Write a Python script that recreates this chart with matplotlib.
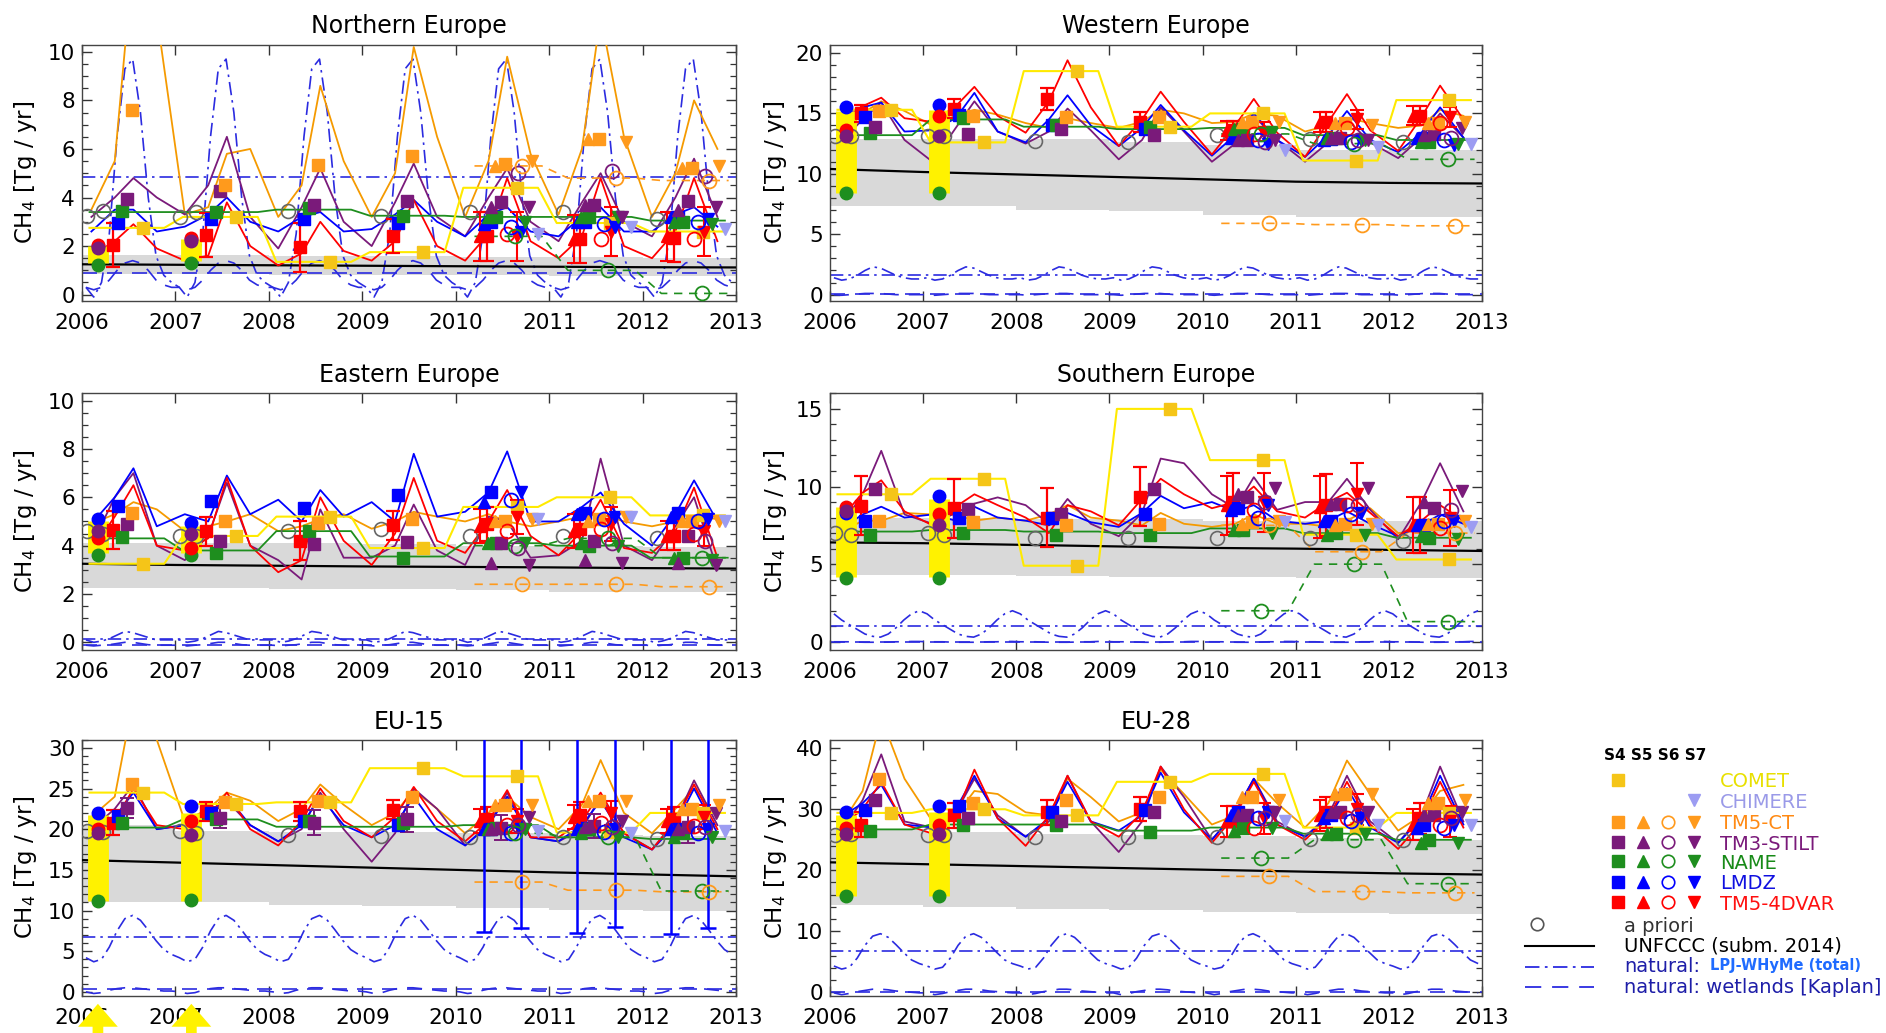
import numpy as np
import matplotlib
matplotlib.use("Agg")
import matplotlib.pyplot as plt
from matplotlib.ticker import MultipleLocator, AutoMinorLocator

plt.rcParams["font.family"] = ["DejaVu Sans"]

# ---------------------------------------------------------------- common axes data
years = [2006, 2007, 2008, 2009, 2010, 2011, 2012]
x_ticks = [2006, 2007, 2008, 2009, 2010, 2011, 2012, 2013]
late_years = [2010, 2011, 2012]
s13_years = [2006, 2007]

# ---------------------------------------------------------------- Northern Europe
ne_band_lo = [0.85, 0.85, 0.82, 0.80, 0.80, 0.78, 0.75]
ne_band_hi = [1.65, 1.65, 1.60, 1.60, 1.55, 1.55, 1.50]
ne_unfccc = [1.25, 1.23, 1.21, 1.19, 1.17, 1.15, 1.13, 1.12]
ne_lpj_cycle = [0.3, -0.1, 0.5, 2.5, 6.5, 9.3, 9.7, 7.5, 4.0, 1.6, 0.8, 0.5]
ne_lpj_mean = 4.85
ne_wet_cycle = [0.3, 0.2, 0.3, 0.6, 1.0, 1.3, 1.4, 1.3, 1.0, 0.6, 0.4, 0.3]
ne_wet_mean = 0.9
ne_lmdz = [2.6, 3.5, 3.5, 2.6, 2.8, 3.3, 4.0, 3.0, 2.6, 3.2, 3.4, 2.6, 2.7, 3.3,
           3.9, 3.0, 2.4, 3.3, 3.6, 2.6, 2.4, 3.2, 3.6, 2.6, 2.6, 3.3, 3.6, 2.8]
ne_4dvar = [1.6, 2.2, 2.9, 1.9, 1.4, 1.6, 3.8, 2.0, 1.2, 1.7, 3.0, 1.8, 1.4, 2.2,
            3.9, 2.0, 1.4, 2.5, 4.8, 2.2, 1.5, 2.4, 4.8, 2.0, 1.5, 2.6, 4.8, 2.2]
ne_stilt = [3.2, 4.0, 4.8, 4.0, 3.3, 4.5, 6.5, 3.2, 1.9, 3.6, 5.2, 3.0, 2.0, 3.8,
            5.4, 3.2, 2.4, 4.0, 5.2, 3.0, 2.2, 3.8, 5.0, 3.0, 2.4, 4.0, 5.6, 3.2]
ne_tm5ct = [3.5, 5.5, 14.0, 11.5, 3.3, 3.6, 5.8, 6.0, 3.2, 4.5, 8.6, 5.5, 3.2, 5.0,
            10.2, 6.5, 3.2, 5.5, 9.8, 5.8, 3.3, 6.0, 11.5, 6.5, 3.2, 5.0, 8.0, 6.0]
ne_name = [3.4, 3.4, 3.5, 3.25, 3.2, 3.2, 3.05]
ne_comet = [2.75, 3.2, 1.35, 1.75, 4.4, 2.95, 2.6]
ne_sq_4dvar = [2.05, 2.45, 1.95, 2.4, 2.4, 2.3, 2.35]
ne_sq_lmdz = [2.95, 3.1, 3.1, 2.95, 3.0, 3.0, 3.2]
ne_sq_name = [3.45, 3.4, 3.55, 3.25, 3.2, 3.2, 3.0]
ne_sq_stilt = [3.95, 4.25, 3.7, 3.85, 3.8, 3.7, 3.85]
ne_sq_tm5ct = [7.6, 4.5, 5.35, 5.7, 5.4, 6.4, 5.2]
ne_err_4dvar = [0.9, 0.9, 1.0, 0.7, 1.0, 1.0, 1.0]
ne_s567_4dvar = [[2.4, 2.3, 2.4], [2.5, 2.3, 2.3], [2.4, 2.6, 2.6]]
ne_s567_lmdz = [[2.9, 3.0, 3.2], [2.8, 2.9, 3.0], [2.6, 2.8, 3.1]]
ne_s567_name = [[3.2, 3.2, 3.0], [2.4, 1.0, 0.05], [3.0, 3.2, 2.9]]
ne_s567_stilt = [[3.6, 3.7, 3.5], [5.0, 5.1, 4.9], [3.6, 3.2, 3.6]]
ne_s567_tm5ct = [[5.3, 6.4, 5.2], [5.3, 4.8, 4.7], [5.5, 6.3, 5.3]]
ne_chimere = [2.5, 2.8, 2.7]
ne_s13_bar = [[1.3, 2.0], [1.4, 2.3]]
ne_s13_dots = [[1.2, 2.0, 2.05, 1.9], [1.3, 2.3, 2.35, 2.2]]
ne_apriori = [3.25, 3.45, 3.2, 3.4, 3.45, 3.25, 3.4, 3.4, 3.1]

# ---------------------------------------------------------------- Western Europe
w_band_lo = [7.3, 7.3, 7.0, 6.9, 6.6, 6.4, 6.4]
w_band_hi = [12.9, 12.9, 12.9, 12.6, 12.4, 12.0, 12.0]
w_unfccc = [10.4, 10.15, 9.95, 9.75, 9.55, 9.35, 9.25, 9.2]
w_lpj_cycle = [1.4, 1.2, 1.3, 1.6, 2.0, 2.3, 2.2, 1.9, 1.6, 1.4, 1.3, 1.3]
w_lpj_mean = 1.65
w_wet_cycle = [0.0, -0.05, 0.0, 0.05, 0.1, 0.1, 0.1, 0.05, 0.0, 0.0, 0.0, 0.0]
w_wet_mean = 0.02
w_lmdz = [14.8, 15.5, 15.9, 13.5, 13.6, 14.6, 16.7, 13.5, 12.6, 14.5, 16.5, 14.0, 12.3, 13.8,
          15.7, 13.6, 11.5, 13.2, 15.0, 12.8, 11.4, 13.2, 15.2, 12.8, 11.8, 13.4, 15.5, 13.0]
w_4dvar = [14.2, 15.6, 16.3, 14.6, 14.3, 15.6, 17.2, 14.8, 13.4, 16.0, 19.4, 15.5, 12.3, 14.5,
           16.8, 14.3, 11.6, 14.0, 16.2, 13.4, 11.4, 14.3, 16.6, 13.6, 11.9, 14.7, 17.3, 14.5]
w_stilt = [12.5, 14.5, 15.9, 12.8, 11.0, 13.8, 16.0, 13.5, 12.5, 13.5, 15.4, 13.6, 11.2, 12.8,
           15.5, 13.5, 11.0, 12.5, 14.8, 12.8, 11.0, 12.6, 14.5, 12.6, 11.3, 13.0, 15.0, 13.0]
w_tm5ct = [13.5, 15.0, 16.0, 15.2, 14.0, 14.8, 15.3, 14.9, 14.2, 13.8, 14.6, 14.2, 13.8, 14.3,
           15.3, 15.0, 14.2, 14.3, 15.0, 14.8, 13.5, 14.0, 14.6, 14.2, 13.8, 14.0, 15.3, 14.8]
w_name = [13.2, 14.5, 13.9, 13.7, 13.8, 13.2, 12.8]
w_comet = [15.3, 12.6, 18.5, 13.9, 15.0, 11.1, 16.1]
w_sq_4dvar = [15.0, 15.4, 16.2, 14.3, 13.6, 14.3, 14.8]
w_sq_lmdz = [14.7, 14.9, 14.0, 13.7, 13.0, 12.9, 13.0]
w_sq_name = [13.4, 14.6, 14.0, 13.9, 13.7, 13.0, 12.6]
w_sq_stilt = [13.9, 13.3, 13.7, 13.2, 12.8, 13.0, 13.3]
w_sq_tm5ct = [15.2, 14.8, 14.7, 14.7, 14.3, 14.2, 14.2]
w_err_4dvar = [0.7, 0.8, 0.9, 0.8, 0.8, 0.8, 0.8]
w_s567_4dvar = [[13.6, 14.3, 14.8], [13.3, 13.8, 14.2], [13.5, 14.5, 14.7]]
w_s567_lmdz = [[13.0, 12.8, 13.0], [12.8, 12.6, 12.8], [12.5, 12.8, 12.4]]
w_s567_name = [[13.7, 13.0, 12.6], [13.3, 12.5, 11.2], [13.5, 12.8, 12.5]]
w_s567_stilt = [[12.8, 13.0, 13.2], [12.6, 12.8, 13.0], [12.8, 12.8, 13.8]]
w_s567_tm5ct = [[14.3, 14.2, 14.2], [5.9, 5.8, 5.7], [14.3, 14.0, 14.3]]
w_chimere = [12.0, 12.2, 12.5]
w_s13_bar = [[8.4, 15.2], [8.4, 15.3]]
w_s13_dots = [[8.4, 15.5, 13.6, 13.1], [8.4, 15.7, 14.8, 13.1]]
w_apriori = [13.1, 13.1, 13.1, 13.1, 12.7, 12.6, 13.2, 12.9, 12.6]

# ---------------------------------------------------------------- Eastern Europe
e_band_lo = [2.25, 2.25, 2.2, 2.2, 2.15, 2.1, 2.1]
e_band_hi = [4.1, 4.1, 4.1, 4.05, 4.0, 4.0, 3.95]
e_unfccc = [3.25, 3.2, 3.17, 3.14, 3.12, 3.1, 3.07, 3.05]
e_lpj_cycle = [0.1, 0.0, 0.05, 0.15, 0.3, 0.45, 0.4, 0.3, 0.2, 0.1, 0.1, 0.1]
e_lpj_mean = 0.15
e_wet_cycle = [-0.12, -0.15, -0.12, -0.1, -0.05, 0.0, 0.0, -0.05, -0.1, -0.12, -0.12, -0.12]
e_wet_mean = -0.1
e_lmdz = [4.9, 6.0, 7.2, 4.8, 5.3, 5.0, 6.9, 5.3, 5.9, 5.0, 6.3, 5.2, 5.8, 5.0,
          7.8, 5.2, 5.4, 6.2, 7.9, 5.0, 5.0, 5.6, 6.2, 4.9, 4.0, 5.3, 6.7, 5.0]
e_4dvar = [3.8, 5.2, 6.5, 4.0, 3.8, 4.3, 6.8, 4.0, 2.9, 3.4, 6.0, 4.2, 3.2, 4.5,
           6.8, 4.2, 3.7, 5.0, 6.3, 4.4, 3.6, 4.6, 5.9, 3.9, 3.7, 4.6, 6.4, 3.5]
e_stilt = [4.0, 6.0, 7.0, 4.0, 3.4, 4.4, 6.6, 4.0, 3.4, 2.6, 5.5, 3.5, 3.5, 4.0,
           5.7, 3.8, 3.2, 5.2, 5.0, 3.5, 3.6, 4.2, 7.6, 4.0, 3.4, 4.8, 6.0, 3.0]
e_tm5ct = [4.9, 5.3, 5.8, 5.5, 4.6, 4.8, 5.0, 5.3, 4.6, 4.8, 5.1, 5.3, 4.7, 5.0,
           5.4, 5.2, 5.0, 5.3, 5.0, 4.8, 5.0, 5.2, 5.3, 5.0, 4.8, 5.0, 5.2, 5.1]
e_name = [4.3, 3.8, 4.6, 3.55, 4.1, 4.0, 3.5]
e_comet = [3.25, 4.4, 5.2, 3.9, 5.6, 6.0, 5.25]
e_sq_4dvar = [4.65, 4.6, 4.2, 4.85, 4.9, 4.7, 4.4]
e_sq_lmdz = [5.65, 5.85, 5.55, 6.1, 6.2, 5.35, 5.35]
e_sq_name = [4.35, 3.7, 4.6, 3.5, 4.1, 4.0, 3.5]
e_sq_stilt = [4.9, 4.2, 4.05, 4.15, 4.1, 4.2, 4.4]
e_sq_tm5ct = [5.35, 5.0, 4.95, 5.1, 5.0, 5.1, 5.0]
e_err_4dvar = [0.8, 0.6, 0.8, 0.6, 0.7, 0.7, 0.6]
e_s567_4dvar = [[4.8, 4.6, 4.4], [4.6, 4.7, 4.5], [5.2, 4.9, 4.6]]
e_s567_lmdz = [[5.8, 5.3, 5.2], [5.9, 5.1, 5.0], [6.2, 5.2, 5.1]]
e_s567_name = [[4.1, 4.1, 3.5], [4.0, 4.3, 3.5], [4.1, 4.0, 3.4]]
e_s567_stilt = [[3.3, 3.4, 3.3], [3.9, 4.1, 4.2], [3.2, 3.3, 3.2]]
e_s567_tm5ct = [[5.0, 5.0, 5.0], [2.4, 2.4, 2.3], [5.1, 5.2, 5.0]]
e_chimere = [5.1, 5.2, 5.0]
e_s13_bar = [[3.7, 5.0], [3.7, 4.8]]
e_s13_dots = [[3.6, 5.1, 4.3, 4.6], [3.6, 4.95, 3.9, 4.5]]
e_apriori = [4.6, 4.5, 4.4, 4.4, 4.6, 4.7, 4.4, 4.4, 4.3]

# ---------------------------------------------------------------- Southern Europe
s_band_lo = [4.3, 4.3, 4.25, 4.2, 4.15, 4.1, 4.1]
s_band_hi = [8.0, 8.0, 7.9, 7.9, 7.8, 7.8, 7.8]
s_unfccc = [6.4, 6.35, 6.25, 6.15, 6.05, 6.0, 5.92, 5.85]
s_lpj_cycle = [1.8, 1.4, 1.1, 0.8, 0.5, 0.35, 0.3, 0.5, 0.9, 1.4, 1.8, 2.0]
s_lpj_mean = 1.0
s_wet_cycle = [0.0, 0.0, 0.0, -0.02, -0.03, -0.03, -0.03, -0.02, 0.0, 0.0, 0.02, 0.02]
s_wet_mean = 0.0
s_lmdz = [7.2, 8.2, 8.7, 8.0, 8.2, 7.8, 8.7, 8.0, 7.8, 7.5, 8.3, 7.7, 7.4, 8.3,
          9.4, 8.6, 9.0, 8.4, 8.8, 7.8, 7.6, 7.8, 8.4, 7.6, 6.8, 7.5, 8.2, 7.6]
s_4dvar = [7.8, 9.6, 10.4, 8.4, 7.5, 8.7, 9.5, 8.8, 8.0, 7.0, 8.8, 8.4, 7.5, 9.2,
           10.5, 9.5, 8.6, 9.0, 10.0, 8.4, 8.0, 9.0, 9.6, 8.3, 6.8, 7.8, 8.8, 7.8]
s_stilt = [7.3, 9.5, 12.3, 8.2, 7.6, 8.3, 8.9, 9.3, 8.8, 7.6, 9.2, 7.6, 6.8, 8.3,
           11.8, 11.5, 9.5, 8.6, 10.6, 8.5, 9.0, 9.0, 10.5, 8.5, 6.6, 9.0, 11.5, 8.4]
s_tm5ct = [7.0, 7.8, 7.8, 8.3, 8.2, 8.2, 7.8, 8.0, 7.8, 8.2, 8.8, 8.0, 7.8, 7.5,
           8.3, 7.6, 7.4, 7.6, 8.2, 7.6, 7.6, 7.4, 7.8, 8.6, 7.0, 7.2, 7.6, 7.8]
s_name = [7.1, 7.2, 7.1, 7.0, 7.3, 7.0, 6.7]
s_comet = [9.5, 10.5, 4.9, 15.0, 11.7, 6.9, 5.3]
s_sq_4dvar = [8.75, 8.6, 8.0, 9.35, 9.0, 8.8, 7.5]
s_sq_lmdz = [7.8, 8.0, 8.0, 8.2, 8.6, 7.8, 7.5]
s_sq_name = [6.9, 7.0, 6.9, 6.9, 7.2, 7.0, 6.7]
s_sq_stilt = [9.85, 8.55, 8.2, 9.85, 9.3, 8.9, 8.6]
s_sq_tm5ct = [7.8, 7.7, 7.5, 7.6, 7.7, 7.6, 7.6]
s_err_4dvar = [1.9, 1.9, 1.9, 1.9, 1.9, 2.0, 1.8]
s_s567_4dvar = [[8.8, 8.7, 7.5], [8.5, 8.8, 7.3], [9.0, 9.5, 8.0]]
s_s567_lmdz = [[8.5, 7.8, 7.5], [8.0, 8.2, 7.8], [8.8, 8.3, 7.8]]
s_s567_name = [[7.2, 6.9, 6.8], [2.0, 5.0, 1.3], [7.0, 6.9, 6.6]]
s_s567_stilt = [[9.5, 8.9, 9.0], [9.0, 8.8, 8.5], [9.9, 9.9, 9.7]]
s_s567_tm5ct = [[7.6, 7.5, 7.6], [7.5, 5.8, 7.0], [7.8, 7.6, 7.8]]
s_chimere = [7.7, 7.5, 7.4]
s_s13_bar = [[4.2, 8.7], [4.2, 9.2]]
s_s13_dots = [[4.1, 8.3, 8.7, 8.4], [4.1, 9.4, 8.2, 7.5]]
s_apriori = [7.0, 6.9, 7.0, 6.9, 6.7, 6.7, 6.7, 6.7, 6.5]

# ---------------------------------------------------------------- EU-15
eu15_band_lo = [11.1, 11.0, 10.7, 10.6, 10.3, 10.1, 10.0]
eu15_band_hi = [20.5, 19.8, 19.7, 19.6, 19.5, 19.3, 19.2]
eu15_unfccc = [16.2, 15.9, 15.6, 15.3, 15.0, 14.7, 14.45, 14.2]
eu15_lpj_cycle = [4.2, 3.7, 4.0, 5.5, 7.5, 9.0, 9.4, 8.8, 7.6, 6.3, 5.2, 4.6]
eu15_lpj_mean = 6.7
eu15_wet_cycle = [0.0, -0.2, -0.1, 0.2, 0.4, 0.5, 0.5, 0.4, 0.3, 0.2, 0.1, 0.1]
eu15_wet_mean = 0.3
eu15_lmdz = [20.5, 21.5, 24.5, 20.0, 20.5, 21.5, 24.0, 20.5, 18.5, 20.5, 24.0, 20.5, 19.0, 20.5,
             24.0, 20.0, 18.0, 20.5, 24.0, 19.0, 18.5, 20.5, 23.5, 19.0, 17.5, 20.5, 25.0, 19.5]
eu15_4dvar = [20.0, 21.0, 25.0, 20.5, 20.0, 21.5, 24.5, 20.0, 18.0, 21.0, 25.0, 21.0, 19.0, 21.5,
              25.2, 21.0, 18.5, 21.0, 24.8, 19.0, 19.0, 21.0, 24.5, 19.5, 17.5, 21.0, 25.5, 20.0]
eu15_stilt = [20.0, 22.5, 25.5, 20.0, 20.5, 21.5, 23.5, 20.5, 18.5, 20.0, 24.5, 20.0, 16.0, 19.5,
              25.0, 22.5, 18.0, 20.5, 24.5, 19.0, 18.5, 20.0, 24.0, 19.5, 17.5, 21.0, 26.0, 20.5]
eu15_tm5ct = [21.5, 24.0, 36.0, 31.0, 21.0, 22.5, 24.5, 23.5, 21.0, 22.5, 25.5, 23.0, 20.5, 22.0,
              24.8, 22.5, 19.5, 22.0, 24.0, 21.5, 20.0, 23.0, 28.5, 22.0, 19.5, 22.5, 25.0, 21.5]
eu15_name = [20.2, 21.2, 20.3, 20.3, 20.5, 19.0, 18.8]
eu15_comet = [24.5, 23.1, 23.3, 27.5, 26.5, 19.6, 22.0]
eu15_sq_4dvar = [20.8, 22.2, 22.2, 22.4, 21.2, 21.8, 21.2]
eu15_sq_lmdz = [21.6, 22.0, 21.0, 20.5, 20.0, 20.2, 20.0]
eu15_sq_name = [20.8, 21.2, 21.0, 20.8, 20.2, 20.0, 19.5]
eu15_sq_stilt = [22.6, 21.4, 20.8, 21.2, 20.2, 20.4, 20.3]
eu15_sq_tm5ct = [25.5, 23.3, 23.5, 23.9, 23.0, 23.5, 22.5]
eu15_err_4dvar = [1.5, 1.2, 1.2, 1.2, 1.5, 1.5, 1.5]
eu15_err_stilt = [1.2, 1.3, 1.5, 1.5, 1.5, 1.5, 2.0]
eu15_s567_4dvar = [[21.0, 21.5, 21.0], [20.5, 20.8, 20.4], [21.0, 22.0, 21.5]]
eu15_s567_lmdz = [[20.0, 20.0, 20.0], [19.5, 19.6, 19.5], [20.0, 20.0, 20.0]]
eu15_s567_name = [[20.0, 19.5, 19.0], [19.5, 19.0, 12.4], [20.0, 19.0, 19.0]]
eu15_s567_stilt = [[20.0, 20.3, 20.0], [20.5, 20.3, 20.3], [21.5, 21.0, 22.0]]
eu15_s567_tm5ct = [[23.0, 23.5, 22.5], [13.5, 12.5, 12.3], [23.0, 23.5, 23.0]]
eu15_chimere = [19.8, 19.5, 19.8]
eu15_lmdz_s5_low = [7.4, 7.2, 7.1]
eu15_lmdz_s7_low = [7.8, 8.0, 7.8]
eu15_s13_bar = [[11.2, 21.7], [11.2, 22.0]]
eu15_s13_dots = [[11.2, 22.0, 20.0, 19.5], [11.3, 22.8, 21.0, 19.3]]
eu15_apriori = [19.8, 19.6, 19.8, 19.5, 19.3, 19.2, 19.0, 19.0, 18.8]

# ---------------------------------------------------------------- EU-28
eu28_band_lo = [14.3, 14.0, 13.7, 13.5, 13.2, 13.0, 12.9]
eu28_band_hi = [26.8, 26.2, 26.0, 25.8, 25.6, 25.3, 25.0]
eu28_unfccc = [21.3, 21.0, 20.7, 20.4, 20.1, 19.8, 19.5, 19.3]
eu28_lpj_cycle = [4.3, 3.8, 4.1, 5.6, 7.7, 9.2, 9.6, 9.0, 7.8, 6.5, 5.3, 4.7]
eu28_lpj_mean = 6.8
eu28_wet_cycle = [-0.1, -0.4, -0.2, 0.1, 0.3, 0.5, 0.5, 0.4, 0.2, 0.1, 0.0, -0.1]
eu28_wet_mean = 0.1
eu28_lmdz = [28.5, 31.0, 34.0, 27.5, 27.0, 30.0, 35.5, 28.5, 25.5, 28.5, 34.5, 28.0, 26.5, 29.0,
             36.0, 29.5, 25.0, 29.5, 35.0, 27.5, 25.5, 28.5, 33.5, 27.0, 24.5, 28.5, 35.5, 27.5]
eu28_4dvar = [27.0, 30.0, 34.5, 27.5, 26.0, 29.0, 36.5, 28.5, 24.0, 29.0, 35.5, 28.0, 25.5, 29.5,
              37.0, 30.0, 24.5, 29.0, 34.5, 27.5, 25.0, 28.5, 34.5, 27.5, 23.5, 28.0, 34.5, 27.0]
eu28_stilt = [26.0, 31.5, 39.0, 28.0, 27.0, 29.5, 35.0, 29.0, 25.5, 28.0, 35.5, 28.0, 23.0, 28.0,
              37.0, 32.0, 25.0, 29.5, 35.0, 28.0, 25.5, 29.0, 35.5, 28.0, 24.5, 29.0, 37.0, 28.0]
eu28_tm5ct = [27.0, 33.0, 45.0, 35.0, 28.0, 29.0, 33.0, 32.5, 29.5, 29.0, 35.0, 32.0, 28.0, 29.5,
              36.5, 32.5, 27.5, 29.0, 35.0, 31.0, 27.0, 31.0, 38.0, 32.5, 26.5, 29.0, 33.0, 34.0]
eu28_name = [26.7, 27.5, 27.5, 26.5, 27.0, 26.0, 25.0]
eu28_comet = [29.4, 30.0, 29.0, 34.5, 35.8, 27.0, 29.4]
eu28_sq_4dvar = [27.5, 29.0, 29.5, 30.0, 28.0, 29.5, 28.5]
eu28_sq_lmdz = [29.8, 30.5, 29.5, 29.8, 29.5, 29.0, 27.5]
eu28_sq_name = [26.5, 27.5, 27.5, 26.3, 27.0, 26.0, 25.0]
eu28_sq_stilt = [31.5, 28.5, 28.0, 29.5, 29.0, 29.5, 29.0]
eu28_sq_tm5ct = [35.0, 31.0, 31.5, 32.0, 32.0, 32.5, 31.0]
eu28_err_4dvar = [2.0, 2.0, 2.0, 2.0, 2.5, 2.5, 2.5]
eu28_s567_4dvar = [[28.0, 29.0, 27.5], [27.0, 28.5, 27.5], [28.5, 30.0, 28.0]]
eu28_s567_lmdz = [[29.0, 28.5, 27.0], [28.5, 28.0, 27.0], [29.5, 28.5, 27.5]]
eu28_s567_name = [[26.5, 26.0, 24.5], [22.0, 25.0, 17.8], [27.0, 26.0, 24.5]]
eu28_s567_stilt = [[29.0, 29.5, 29.0], [28.5, 29.0, 28.5], [29.5, 29.5, 29.5]]
eu28_s567_tm5ct = [[32.0, 32.5, 31.0], [19.0, 16.5, 16.3], [31.5, 32.5, 31.5]]
eu28_chimere = [28.0, 27.5, 27.5]
eu28_s13_bar = [[15.8, 29.0], [15.8, 29.5]]
eu28_s13_dots = [[15.8, 29.5, 27.0, 26.0], [15.8, 30.5, 27.5, 26.0]]
eu28_apriori = [25.8, 26.0, 25.8, 25.8, 25.5, 25.5, 25.5, 25.2, 25.0]

# ---------------------------------------------------------------- styling
C_COMET_LINE, C_COMET = "#FFEA00", "#F5C518"
C_CHIMERE = "#9C9CF2"
C_TM5CT = "#FF9A1C"
C_STILT = "#7A1A7A"
C_NAME = "#1E8E1E"
C_LMDZ = "#0000FF"
C_4DVAR = "#FF0000"
C_NAT = "#2B2BE0"
C_YBAR = "#FFF200"
LS_DASHDOT = (0, (8, 3, 1.5, 3))
LS_DASH = (0, (9, 6))

season_pos = [0.1, 0.35, 0.55, 0.8]
t_season = [y + o for y in years for o in season_pos]
t_month = [y + (m + 0.5) / 12.0 for y in years for m in range(12)]
apriori_t = [2006.05, 2006.22, 2007.05, 2007.22, 2008.2, 2009.2, 2010.15, 2011.15, 2012.15]

MODELS = [  # key, colour, S4 x-offset, offset inside later clusters
    ("4dvar", C_4DVAR, 0.33, 0.00),
    ("lmdz", C_LMDZ, 0.38, 0.04),
    ("name", C_NAME, 0.43, 0.08),
    ("stilt", C_STILT, 0.48, 0.12),
    ("tm5ct", C_TM5CT, 0.53, 0.16),
]


def panel(prefix, title, ylim, major, minor_n):
    g = globals()
    d = dict(title=title, ylim=ylim, major=major, minor_n=minor_n)
    for k in ["band_lo", "band_hi", "unfccc", "lpj_cycle", "lpj_mean", "wet_cycle",
              "wet_mean", "lmdz", "4dvar", "stilt", "tm5ct", "name", "comet",
              "sq_4dvar", "sq_lmdz", "sq_name", "sq_stilt", "sq_tm5ct", "err_4dvar",
              "s567_4dvar", "s567_lmdz", "s567_name", "s567_stilt", "s567_tm5ct",
              "chimere", "s13_bar", "s13_dots", "apriori"]:
        d[k] = g[f"{prefix}_{k}"]
    d["err_stilt"] = g.get(f"{prefix}_err_stilt")
    d["lmdz_low"] = (g.get(f"{prefix}_lmdz_s5_low"), g.get(f"{prefix}_lmdz_s7_low"))
    return d


PANELS = [
    panel("ne", "Northern Europe", (-0.25, 10.3), 2, 4),
    panel("w", "Western Europe", (-0.5, 20.7), 5, 5),
    panel("e", "Eastern Europe", (-0.3, 10.3), 2, 4),
    panel("s", "Southern Europe", (-0.5, 16.0), 5, 5),
    panel("eu15", "EU-15", (-0.5, 31.0), 5, 5),
    panel("eu28", "EU-28", (-0.6, 41.4), 10, 5),
]


def plateau(values, start, stop, yrs):
    xs, ys = [], []
    for y, v in zip(yrs, values):
        xs += [y + start, y + stop]
        ys += [v, v]
    return xs, ys


def draw(ax, p, left_col):
    # UNFCCC uncertainty band and inventory line
    ax.fill_between(years + [2013], p["band_lo"] + [p["band_lo"][-1]],
                    p["band_hi"] + [p["band_hi"][-1]], step="post",
                    color="#d9d9d9", lw=0, zorder=1)
    ax.plot(x_ticks, p["unfccc"], color="black", lw=1.6, zorder=3)

    # natural emissions
    ax.plot(t_month, np.tile(p["lpj_cycle"], len(years)), color=C_NAT, lw=1.2,
            ls=LS_DASHDOT, zorder=2)
    ax.axhline(p["lpj_mean"], color=C_NAT, lw=1.2, ls=LS_DASHDOT, zorder=2)
    ax.plot(t_month, np.tile(p["wet_cycle"], len(years)), color=C_NAT, lw=1.2,
            ls=LS_DASH, zorder=2)
    ax.axhline(p["wet_mean"], color=C_NAT, lw=1.2, ls=LS_DASH, zorder=2)

    # S4 monthly-resolved curves
    for key, col in [("tm5ct", "#F59A00"), ("stilt", C_STILT), ("lmdz", C_LMDZ),
                     ("4dvar", C_4DVAR)]:
        ax.plot(t_season, p[key], color=col, lw=1.3, zorder=4)
    xs, ys = plateau(p["name"], 0.08, 0.88, years)
    ax.plot(xs, ys, color=C_NAME, lw=1.3, zorder=4)
    xs, ys = plateau(p["comet"], 0.08, 0.88, years)
    ax.plot(xs, ys, color=C_COMET_LINE, lw=1.5, zorder=4)

    # S6 runs shown as dashed yearly levels
    for key, col in [("tm5ct", C_TM5CT), ("name", C_NAME)]:
        xs, ys = plateau(p["s567_" + key][1], 0.2, 0.92, late_years)
        ax.plot(xs, ys, color=col, lw=1.2, ls=(0, (5, 4)), zorder=4)

    # S1-S3 ranges
    for y, (lo, hi), dots in zip(s13_years, p["s13_bar"], p["s13_dots"]):
        x = y + 0.17
        ax.plot([x, x], [lo, hi], color=C_YBAR, lw=15, solid_capstyle="butt", zorder=5)
        for v, col in zip(dots, [C_NAME, C_LMDZ, C_4DVAR, C_STILT]):
            ax.plot(x, v, "o", color=col, ms=9, zorder=7)

    # a priori
    ax.plot(apriori_t, p["apriori"], "o", mfc="none", mec="#666666", ms=10, mew=1.2, zorder=6)

    # S4 annual markers
    for key, col, off, _ in MODELS:
        ax.plot([y + off for y in years], p["sq_" + key], "s", color=col, ms=9, zorder=7)
    ax.plot([y + 0.65 for y in years], p["comet"], "s", color=C_COMET, ms=9, zorder=7)
    ax.errorbar([y + 0.33 for y in years], p["sq_4dvar"], yerr=p["err_4dvar"], fmt="none",
                ecolor=C_4DVAR, elinewidth=1.6, capsize=5, capthick=1.6, zorder=6)
    if p["err_stilt"] is not None:
        ax.errorbar([y + 0.48 for y in years], p["sq_stilt"], yerr=p["err_stilt"], fmt="none",
                    ecolor=C_STILT, elinewidth=1.4, capsize=5, capthick=1.4, zorder=6)

    # S5 / S6 / S7 markers
    for key, col, _, off in MODELS:
        s5, s6, s7 = p["s567_" + key]
        ax.plot([y + 0.26 + off for y in late_years], s5, "^", color=col, ms=9, zorder=7)
        ax.plot([y + 0.55 + off for y in late_years], s6, "o", mfc="none", mec=col,
                ms=10, mew=1.3, zorder=7)
        ax.plot([y + 0.66 + off for y in late_years], s7, "v", color=col, ms=9, zorder=7)
        if key == "4dvar":
            err = p["err_4dvar"][4:]
            for base, vals in [(0.26, s5), (0.66, s7)]:
                ax.errorbar([y + base for y in late_years], vals, yerr=err, fmt="none",
                            ecolor=C_4DVAR, elinewidth=1.5, capsize=5, capthick=1.5, zorder=6)
        if key == "lmdz" and p["lmdz_low"][0] is not None:
            for base, vals, low in [(0.30, s5, p["lmdz_low"][0]), (0.70, s7, p["lmdz_low"][1])]:
                e = [v - l for v, l in zip(vals, low)]
                ax.errorbar([y + base for y in late_years], vals, yerr=e, fmt="none",
                            ecolor=C_LMDZ, elinewidth=1.8, capsize=6, capthick=1.8, zorder=6)
    ax.plot([y + 0.88 for y in late_years], p["chimere"], "v", color=C_CHIMERE, ms=9, zorder=7)

    # axes cosmetics
    ax.set_xlim(2006, 2013)
    ax.set_ylim(*p["ylim"])
    ax.set_xticks(x_ticks)
    ax.yaxis.set_major_locator(MultipleLocator(p["major"]))
    ax.yaxis.set_minor_locator(AutoMinorLocator(p["minor_n"]))
    ax.tick_params(axis="both", which="both", direction="in", top=True, right=True,
                   colors="#333333", labelcolor="black")
    ax.tick_params(axis="both", which="major", length=7, width=1.0, labelsize=15.5)
    ax.tick_params(axis="y", which="minor", length=4, width=0.9)
    ax.tick_params(axis="x", pad=9)
    ax.tick_params(axis="y", pad=5)
    for s in ax.spines.values():
        s.set_color("#444444")
        s.set_linewidth(1.0)
    ax.set_title(p["title"], fontsize=17, pad=8)
    ax.set_ylabel("CH$_4$ [Tg / yr]", fontsize=16.5)
    ax.yaxis.set_label_coords(-0.066 if left_col else -0.063, 0.5)


fig = plt.figure(figsize=(18.86, 10.33), dpi=100)
lefts = [0.0435, 0.4401]
widths = [0.3468, 0.3457]
bottoms = [0.7089, 0.3712, 0.0359]
height = 0.2480

axes = []
for i, p in enumerate(PANELS):
    r, c = divmod(i, 2)
    ax = fig.add_axes([lefts[c], bottoms[r], widths[c], height])
    draw(ax, p, c == 0)
    axes.append(ax)

# S1-S3 year markers under the EU-15 panel
ax15 = axes[4]
for y in s13_years:
    ax15.annotate("", xy=(y + 0.17, -0.02), xytext=(y + 0.17, -0.17),
                  xycoords=ax15.get_xaxis_transform(), textcoords=ax15.get_xaxis_transform(),
                  arrowprops=dict(arrowstyle="simple,head_width=1.3,head_length=0.75,tail_width=0.35",
                                  color=C_YBAR, lw=0, mutation_scale=22),
                  annotation_clip=False, zorder=10)

# ---------------------------------------------------------------- key
lg = fig.add_axes([0, 0, 1, 1], facecolor="none")
lg.set_xlim(0, 1)
lg.set_ylim(0, 1)
lg.axis("off")

cols_x = [0.8578, 0.8712, 0.8846, 0.8980]
text_x = 0.912
lg.text(0.8505, 0.2689, "S4 S5 S6 S7", fontsize=11, weight="bold", va="center", ha="left")
rows = [
    ("COMET", C_COMET, "#E8E000", [True, False, False, False], 0.2433),
    ("CHIMERE", C_CHIMERE, "#9A9AE8", [False, False, False, True], 0.2235),
    ("TM5-CT", C_TM5CT, "#FF8A14", [True] * 4, 0.2026),
    ("TM3-STILT", C_STILT, C_STILT, [True] * 4, 0.1828),
    ("NAME", C_NAME, "#178A17", [True] * 4, 0.1641),
    ("LMDZ", C_LMDZ, "#1010E0", [True] * 4, 0.1444),
    ("TM5-4DVAR", C_4DVAR, "#FF1010", [True] * 4, 0.1246),
]
for name, mcol, tcol, show, yy in rows:
    for x, on, mk in zip(cols_x, show, ["s", "^", "o", "v"]):
        if not on:
            continue
        if mk == "o":
            lg.plot(x, yy + 0.002, mk, mfc="none", mec=mcol, ms=9, mew=1.2)
        else:
            lg.plot(x, yy + 0.002, mk, color=mcol, ms=8.5)
    lg.text(text_x, yy, name, color=tcol, fontsize=14, va="center", ha="left")

lg.plot(0.8150, 0.1060, "o", mfc="none", mec="#555555", ms=9, mew=1.2)
lg.text(0.861, 0.1035, "a priori", color="#333333", fontsize=14, va="center")
lg.plot([0.8087, 0.8450], [0.0838, 0.0838], color="black", lw=1.5)
lg.text(0.861, 0.0838, "UNFCCC (subm. 2014)", color="black", fontsize=14, va="center")
lg.plot([0.8087, 0.8450], [0.0640, 0.0640], color=C_NAT, lw=1.3, ls=LS_DASHDOT)
lg.text(0.861, 0.0640, "natural:", color="#1E1EA8", fontsize=14, va="center")
lg.text(0.9065, 0.0650, "LPJ-WHyMe (total)", color="#1F6BFF", fontsize=10.5,
        weight="bold", va="center")
lg.plot([0.8087, 0.8450], [0.0442, 0.0442], color=C_NAT, lw=1.3, ls=LS_DASH)
lg.text(0.861, 0.0442, "natural: wetlands [Kaplan]", color="#1E1EA8", fontsize=14, va="center")

fig.savefig("out.png", dpi=100)
